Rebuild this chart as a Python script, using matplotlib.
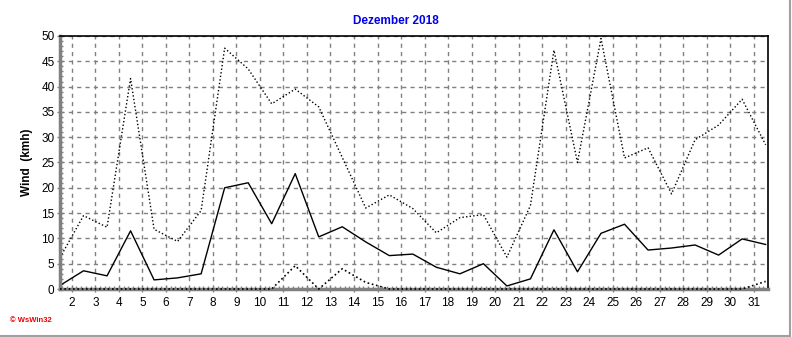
import matplotlib
matplotlib.use("Agg")
import matplotlib.pyplot as plt
from matplotlib.ticker import MultipleLocator
from matplotlib.lines import Line2D

# daily wind values for December 2018, one point per day (plotted at day + 0.5)
days = list(range(1, 32))
wind_mean = [0.7, 3.6, 2.6, 11.5, 1.8, 2.2, 3.0, 20.0, 21.0, 12.9,
             22.8, 10.3, 12.3, 9.3, 6.6, 6.9, 4.3, 3.0, 5.0, 0.6,
             2.0, 11.7, 3.4, 11.0, 12.8, 7.7, 8.1, 8.7, 6.7, 9.9, 8.8]
wind_max = [6.2, 14.5, 12.2, 41.6, 11.8, 9.4, 15.5, 47.6, 43.5, 36.6,
            39.5, 36.0, 26.0, 16.0, 18.6, 15.9, 11.1, 14.1, 14.7, 6.3,
            16.5, 47.2, 25.0, 49.5, 25.9, 27.9, 18.8, 29.5, 32.4, 37.5, 28.5]
wind_min = [0, 0, 0, 0, 0, 0, 0, 0, 0, 0,
            4.6, 0, 4.0, 1.3, 0, 0, 0, 0, 0, 0,
            0, 0, 0, 0, 0, 0, 0, 0, 0, 0, 1.5]
x_ticks = list(range(2, 32))
y_ticks = list(range(0, 51, 5))

plt.rcParams["font.family"] = ["Liberation Sans", "DejaVu Sans"]

fig = plt.figure(figsize=(7.92, 3.37), dpi=100)
ax = fig.add_axes([60 / 792, 48 / 337, 708 / 792, 253 / 337])

xs = [d + 0.5 for d in days]
dot = (0, (1, 1.6))
ax.plot(xs, wind_max, color="black", linewidth=1, linestyle=dot)
ax.plot(xs, wind_min, color="black", linewidth=1.2, linestyle=dot,
        clip_on=False, zorder=5)
ax.plot(xs, wind_mean, color="black", linewidth=1)

ax.set_xlim(1.5, 31.6)
ax.set_ylim(0, 50)
ax.set_xticks(x_ticks)
ax.set_yticks(y_ticks)
ax.xaxis.set_minor_locator(MultipleLocator(0.2))
ax.yaxis.set_minor_locator(MultipleLocator(1))
ax.tick_params(axis="both", which="major", labelsize=8.5, length=4,
               direction="inout", color="#808080", width=1)
ax.tick_params(axis="both", which="minor", length=2, direction="in",
               color="#808080", width=1)
ax.tick_params(axis="x", pad=4)
ax.tick_params(axis="y", pad=2)

ax.grid(True, which="major", color="#808080", linestyle=(0, (3, 3)),
        linewidth=1)
ax.set_axisbelow(True)

for side in ("left", "bottom"):
    ax.spines[side].set_color("#808080")
    ax.spines[side].set_linewidth(2.5)
for side in ("top", "right"):
    ax.spines[side].set_color("black")
    ax.spines[side].set_linewidth(1.2)

ax.set_ylabel("Wind  (kmh)", fontsize=8.5, fontweight="bold", labelpad=6)
fig.text(396 / 792, 1 - 21 / 337, "Dezember 2018", color="#0000ee",
         fontsize=8.5, fontweight="bold", ha="center", va="center")
fig.text(10 / 792, 1 - 320 / 337, "\u00a9 WsWin32", color="#ee0000",
         fontsize=5.5, fontweight="bold", ha="left", va="center")

# panel edge on the right and bottom of the image
fig.add_artist(Line2D([790 / 792, 790 / 792], [1 / 337, 1], color="#a0a0a0",
                      linewidth=1.5, transform=fig.transFigure))
fig.add_artist(Line2D([0, 790 / 792], [1.5 / 337, 1.5 / 337], color="#a0a0a0",
                      linewidth=1.5, transform=fig.transFigure))

fig.savefig("out.png", dpi=100)
